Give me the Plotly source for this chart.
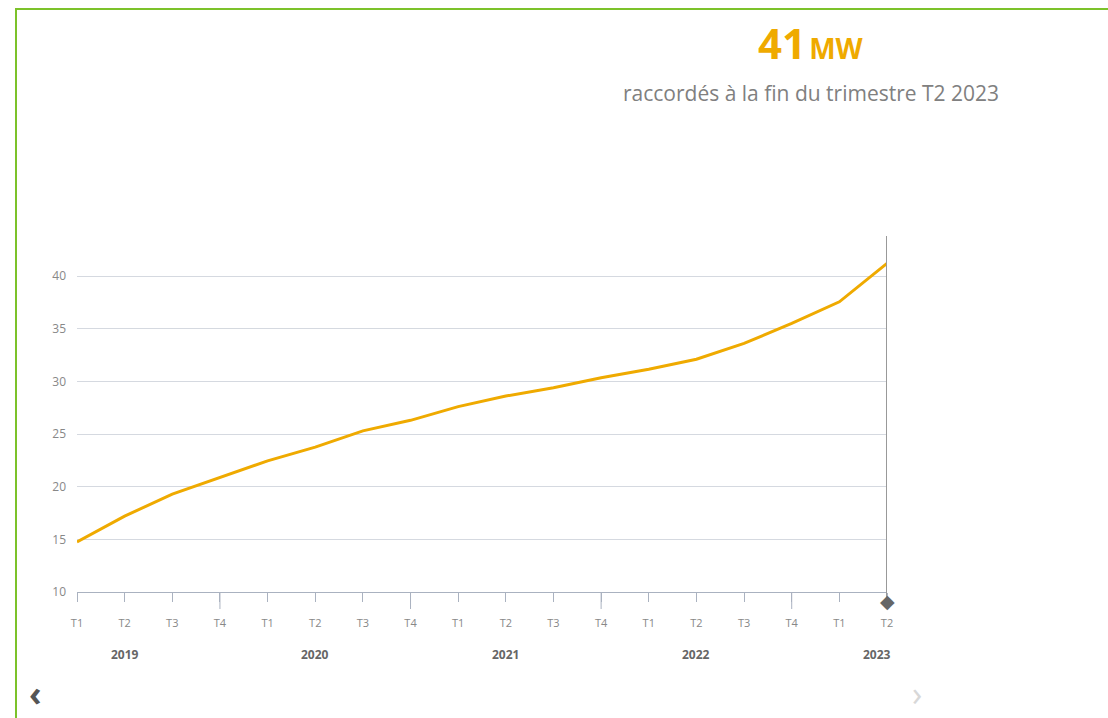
import plotly.graph_objects as go

quarters = ["T1", "T2", "T3", "T4", "T1", "T2", "T3", "T4", "T1", "T2", "T3", "T4",
            "T1", "T2", "T3", "T4", "T1", "T2"]
years = ["2019", "2020", "2021", "2022", "2023"]
year_pos = [1, 5, 9, 13, 17]
values = [14.75, 17.2, 19.3, 20.9, 22.45, 23.75, 25.3, 26.3, 27.6, 28.6, 29.4, 30.35,
          31.15, 32.1, 33.6, 35.5, 37.55, 41.2]
y_ticks = [10, 15, 20, 25, 30, 35, 40]
headline_value = "41"
headline_unit = "MW"
subtitle = "raccordés à la fin du trimestre T2 2023"

idx = list(range(len(values)))
last = idx[-1]
long_ticks = [i for i, q in enumerate(quarters) if q == "T4"]

W, H = 1108, 718
L, R, T, B = 77, W - 887, 236, 126
pw = W - L - R
ph = H - T - B
YMIN, YMAX = 10, 43.8

def px_x(p):
    return (p - L) / pw

def px_y(p):
    return (H - B - p) / ph

FONT = "Open Sans"
fig = go.Figure()
fig.add_trace(go.Scatter(x=idx, y=values, mode="lines",
                         line=dict(color="#efaa00", width=3), hoverinfo="skip",
                         showlegend=False))

fig.update_layout(
    width=W, height=H,
    margin=dict(l=L, r=R, t=T, b=B),
    paper_bgcolor="white", plot_bgcolor="white",
    font=dict(family=FONT, color="#888888"),
    xaxis=dict(range=[0, last], tickvals=idx, ticktext=quarters, showgrid=False,
               zeroline=False, showline=True, linecolor="#aab2c0", linewidth=1,
               ticks="outside", ticklen=9, tickcolor="#aab2c0", tickwidth=1,
               tickfont=dict(size=11, color="#888888"), ticklabelstandoff=12),
    yaxis=dict(range=[YMIN, YMAX], tickvals=y_ticks, showgrid=True, gridcolor="#d5d9e0",
               gridwidth=1, zeroline=False, showline=False, ticks="",
               tickfont=dict(size=12, color="#888888"), ticklabelstandoff=10),
    showlegend=False,
)

# longer ticks at each T4
for i in long_ticks:
    fig.add_shape(type="line", xref="x", yref="paper", x0=i, x1=i, y0=0, y1=px_y(609),
                  line=dict(color="#aab2c0", width=1))
# crosshair at last point
fig.add_shape(type="line", xref="x", yref="paper", x0=last, x1=last, y0=px_y(600), y1=1,
              line=dict(color="#999999", width=2))
# diamond marker below the axis at the last category
fig.add_annotation(x=last, y=px_y(601), xref="x", yref="paper", text="◆",
                   showarrow=False, font=dict(size=19, color="#666666", family="DejaVu Sans"),
                   xanchor="center", yanchor="middle")
# green frame
fig.add_shape(type="rect", xref="paper", yref="paper",
              x0=px_x(16), x1=px_x(W + 20), y0=px_y(H + 20), y1=px_y(9),
              line=dict(color="#7cc22a", width=2), layer="below")

# year labels
for yr, p in zip(years, year_pos):
    fig.add_annotation(x=p, y=px_y(654), xref="x", yref="paper", text=f"<b>{yr}</b>",
                       showarrow=False, font=dict(size=12, color="#666666"),
                       xanchor="right" if p == last else "center", yanchor="middle",
                       xshift=6 if p == last else 0)

# headline
fig.add_annotation(x=px_x(811), y=px_y(43), xref="paper", yref="paper",
                   text=f"<b><span style='font-size:42px'>{headline_value}</span>&nbsp;"
                        f"<span style='font-size:28px'>{headline_unit}</span></b>",
                   showarrow=False, font=dict(color="#efaa00", family=FONT),
                   xanchor="center", yanchor="middle")
fig.add_annotation(x=px_x(811), y=px_y(93), xref="paper", yref="paper", text=subtitle,
                   showarrow=False, font=dict(size=21, color="#808080", family=FONT),
                   xanchor="center", yanchor="middle")
# navigation arrows
fig.add_annotation(x=px_x(35), y=px_y(693), xref="paper", yref="paper", text="<b>‹</b>",
                   showarrow=False, font=dict(size=34, color="#555555"),
                   xanchor="center", yanchor="middle")
fig.add_annotation(x=px_x(917), y=px_y(693), xref="paper", yref="paper", text="›",
                   showarrow=False, font=dict(size=34, color="#d8d8d8"),
                   xanchor="center", yanchor="middle")

fig.write_html("out.html", config={"displayModeBar": False},
               post_script="document.body.style.margin='0';document.body.style.overflow='hidden';")
